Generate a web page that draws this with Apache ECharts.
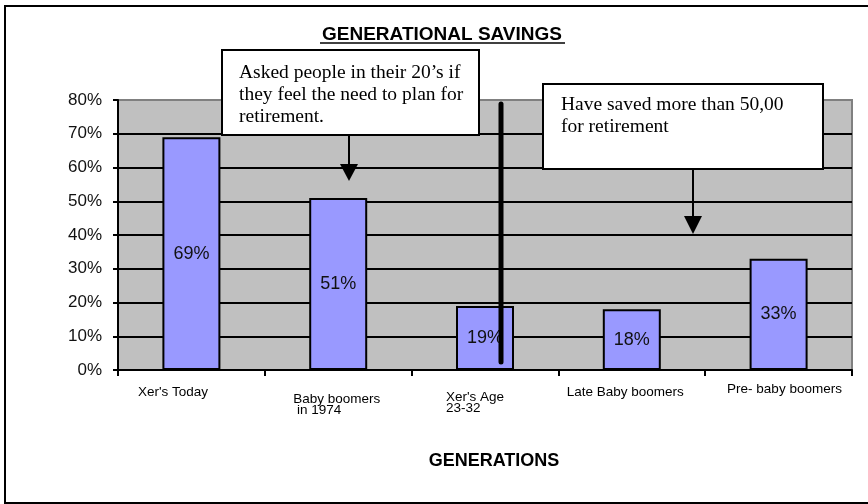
<!DOCTYPE html>
<html>
<head>
<meta charset="utf-8">
<script src="https://cdn.jsdelivr.net/npm/echarts@6/dist/echarts.min.js"></script>
<style>
html, body { margin: 0; padding: 0; background: #fff; }
#chart { width: 868px; height: 504px; }
</style>
</head>
<body>
<div id="chart"></div>
<script>
// data
var generations = ["Xer's Today", 'Baby boomers\n in 1974', "Xer's Age\n23-32", 'Late Baby boomers', 'Pre- baby boomers'];
var savedPct = [69, 51, 19, 18, 33];
var yMin = 0, yMax = 80, yStep = 10;
var titleText = 'GENERATIONAL SAVINGS';
var axisName = 'GENERATIONS';
var note1 = "Asked people in their 20\u2019s if\nthey feel the need to plan for\nretirement.";
var note2 = 'Have saved more than 50,000\nfor retirement';

var myChart = echarts.init(document.getElementById('chart'));
var sans = 'Liberation Sans, Arial, sans-serif';
var serif = 'Liberation Serif, Times New Roman, serif';

// x label placement (Excel staggered them a bit)
var labelBox = [
    { w: 107, lh: 24, sp: 0 },
    { w: 90, lh: 11, sp: 14 },
    { w: 78, lh: 11, sp: 12 },
    { w: 130, lh: 24, sp: 0 },
    { w: 103, lh: 18, sp: 0 }
];
var rich = {};
labelBox.forEach(function (b, i) {
    rich['l' + i] = { width: b.w, align: 'left', lineHeight: b.lh, fontSize: 13.5, fontFamily: sans, color: '#000' };
    rich['s' + i] = { lineHeight: b.sp, fontSize: 2 };
});

var option = {
    animation: false,
    backgroundColor: '#fff',
    grid: {
        left: 118,
        right: 16,
        top: 100,
        bottom: 134,
        show: true,
        backgroundColor: '#C0C0C0',
        borderColor: '#808080',
        borderWidth: 2
    },
    xAxis: {
        type: 'category',
        data: generations,
        name: axisName,
        nameLocation: 'middle',
        nameGap: 82,
        nameTextStyle: { fontSize: 18, fontWeight: 'bold', fontFamily: sans, color: '#000', padding: [0, 0, 0, 18] },
        axisLine: { lineStyle: { color: '#000', width: 2 } },
        axisTick: { show: true, length: 6, lineStyle: { color: '#000', width: 2 } },
        axisLabel: {
            interval: 0,
            margin: 10,
            rich: rich,
            formatter: function (value, index) {
                var parts = value.split('\n').map(function (s) {
                    return '{l' + index + '|' + s + '}';
                });
                if (labelBox[index].sp) parts.unshift('{s' + index + '| }');
                return parts.join('\n');
            }
        },
        splitLine: { show: false }
    },
    yAxis: {
        type: 'value',
        min: yMin,
        max: yMax,
        interval: yStep,
        axisLine: { show: true, lineStyle: { color: '#000', width: 2 } },
        axisTick: { show: true, length: 5, lineStyle: { color: '#000', width: 2 } },
        axisLabel: { formatter: '{value}%', fontSize: 17, fontFamily: sans, color: '#111', margin: 16 },
        splitLine: { show: true, showMaxLine: false, lineStyle: { color: '#000', width: 2 } }
    },
    series: [{
        name: 'Saved',
        type: 'bar',
        data: savedPct,
        barWidth: 58,
        itemStyle: { color: '#9999FF', borderColor: '#000', borderWidth: 2 },
        label: {
            show: true,
            position: 'inside',
            formatter: '{c}%',
            fontSize: 18,
            fontFamily: sans,
            color: '#111'
        }
    }],
    graphic: [
        // outer frame
        { type: 'rect', shape: { x: 5, y: 6, width: 875, height: 497 }, style: { fill: 'none', stroke: '#000', lineWidth: 2 }, z: 1 },
        // title
        { type: 'text', x: 442, y: 35, style: { text: titleText, align: 'center', verticalAlign: 'middle', font: 'bold 19px ' + sans, fill: '#000' }, z: 10 },
        { type: 'line', shape: { x1: 320, y1: 43, x2: 565, y2: 43 }, style: { stroke: '#000', lineWidth: 1.5 }, z: 10 },
        // note 1
        { type: 'rect', shape: { x: 222, y: 50, width: 257, height: 85 }, style: { fill: '#fff', stroke: '#000', lineWidth: 2 }, z: 20 },
        { type: 'text', x: 239, y: 62, style: { text: note1, width: 232, overflow: 'truncate', ellipsis: '', font: '19.5px ' + serif, lineHeight: 22, fill: '#000' }, z: 21 },
        { type: 'line', shape: { x1: 349, y1: 135, x2: 349, y2: 166 }, style: { stroke: '#000', lineWidth: 2 }, z: 20 },
        { type: 'polygon', shape: { points: [[340, 164], [358, 164], [349, 181]] }, style: { fill: '#000' }, z: 20 },
        // note 2
        { type: 'rect', shape: { x: 543, y: 84, width: 280, height: 85 }, style: { fill: '#fff', stroke: '#000', lineWidth: 2 }, z: 20 },
        { type: 'text', x: 561, y: 94, style: { text: note2, width: 229, overflow: 'truncate', ellipsis: '', font: '19.5px ' + serif, lineHeight: 22, fill: '#000' }, z: 21 },
        { type: 'line', shape: { x1: 693, y1: 169, x2: 693, y2: 218 }, style: { stroke: '#000', lineWidth: 2 }, z: 20 },
        { type: 'polygon', shape: { points: [[684, 216], [702, 216], [693, 234]] }, style: { fill: '#000' }, z: 20 },
        // thick divider
        { type: 'line', shape: { x1: 501, y1: 104, x2: 501, y2: 362 }, style: { stroke: '#000', lineWidth: 5, lineCap: 'round' }, z: 20 }
    ]
};

myChart.setOption(option);
</script>
</body>
</html>
